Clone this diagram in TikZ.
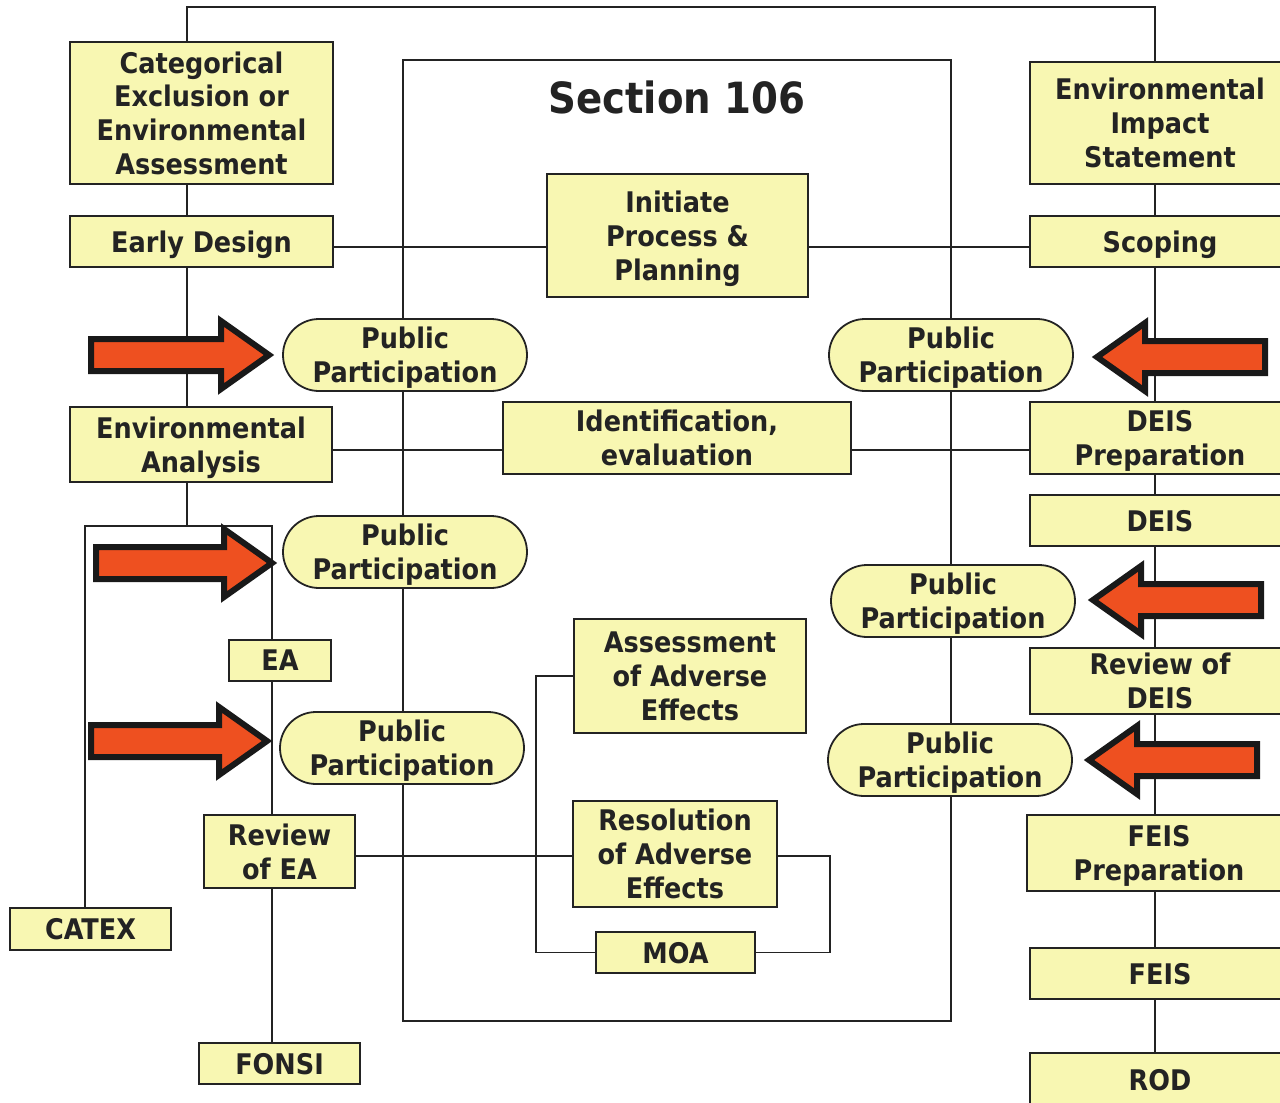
\documentclass[tikz,border=0pt]{standalone}
\usepackage{fontspec}
\setmainfont{DejaVu Sans Condensed}
\usepackage{xcolor}
\usetikzlibrary{calc}
\definecolor{boxfill}{RGB}{248,247,178}
\definecolor{arrowfill}{RGB}{238,80,32}
\definecolor{inkdark}{RGB}{35,35,35}

\begin{document}
\begin{tikzpicture}[
    x=0.5pt, y=-0.5pt,
    box/.style={rectangle, draw=inkdark, line width=0.9pt, fill=boxfill, inner sep=0pt, align=center, text depth=0pt, text=inkdark, font=\bfseries\fontsize{14.2}{16.9}\selectfont},
    ppbox/.style={box, minimum width=122pt, minimum height=36pt, rounded corners=18pt},
    link/.style={draw=inkdark, line width=0.75pt},
    pparrow/.pic={
        \draw[draw=black!90, line width=3pt, line join=miter, fill=arrowfill]
            (0,0) -- (-48,-34) -- (-48,-16) -- (-#1,-16) -- (-#1,16) -- (-48,16) -- (-48,34) -- cycle;
    }
]
\clip (0,0) rectangle (1280,1103);

% Section 106 frame
\node[draw=inkdark, line width=0.75pt, minimum width=274pt, minimum height=480.5pt] (sec) at (677,540.5) {};
\node[text=inkdark, font=\bfseries\fontsize{21.5}{24}\selectfont] (title) at (677,97) {Section 106};

% left column
\node[box, minimum width=131.5pt, minimum height=71pt] (cat) at (201.5,113) {Categorical\\Exclusion or\\Environmental\\Assessment};
\node[box, minimum width=131.5pt, minimum height=25.5pt] (early) at (201.5,241.5) {Early Design};
\node[box, minimum width=131pt, minimum height=37.5pt] (envan) at (201,444.5) {Environmental\\Analysis};
\node[box, minimum width=51pt, minimum height=20.5pt] (ea) at (280,660.5) {EA};
\node[box, minimum width=75.5pt, minimum height=36.5pt] (revea) at (279.5,851.5) {Review\\of EA};
\node[box, minimum width=80.5pt, minimum height=21pt] (catex) at (90.5,929) {CATEX};
\node[box, minimum width=80.5pt, minimum height=20.5pt] (fonsi) at (279.5,1063.5) {FONSI};

% middle column
\node[box, minimum width=130.5pt, minimum height=61.5pt] (init) at (677.5,235.5) {Initiate\\Process \&\\Planning};
\node[box, minimum width=174pt, minimum height=36pt] (ident) at (677,438) {Identification,\\evaluation};
\node[box, minimum width=116pt, minimum height=57pt] (assess) at (690,676) {Assessment\\of Adverse\\Effects};
\node[box, minimum width=102pt, minimum height=53pt] (resol) at (675,854) {Resolution\\of Adverse\\Effects};
\node[box, minimum width=79.5pt, minimum height=20.5pt] (moa) at (675.5,952.5) {MOA};

% public participation
\node[ppbox] (ppa) at (405,355) {Public\\Participation};
\node[ppbox] (ppb) at (405,552) {Public\\Participation};
\node[ppbox] (ppc) at (402,748) {Public\\Participation};
\node[ppbox] (ppd) at (951,355) {Public\\Participation};
\node[ppbox] (ppe) at (953,601) {Public\\Participation};
\node[ppbox] (ppf) at (950,760) {Public\\Participation};

% right column
\node[box, minimum width=130pt, minimum height=61pt] (eis) at (1160,123) {Environmental\\Impact\\Statement};
\node[box, minimum width=130pt, minimum height=25.5pt] (scoping) at (1160,241.5) {Scoping};
\node[box, minimum width=130pt, minimum height=36pt] (deisprep) at (1160,438) {DEIS\\Preparation};
\node[box, minimum width=130pt, minimum height=25.5pt] (deis) at (1160,520.5) {DEIS};
\node[box, minimum width=130pt, minimum height=33pt] (revdeis) at (1160,681) {Review of\\DEIS};
\node[box, minimum width=132pt, minimum height=38pt] (feisprep) at (1159,853) {FEIS\\Preparation};
\node[box, minimum width=130pt, minimum height=25.5pt] (feis) at (1160,973.5) {FEIS};
\node[box, minimum width=130pt, minimum height=27pt] (rod) at (1160,1080) {ROD};

% spines and rows
\coordinate (lspine) at (187,7);
\coordinate (rspine) at (1155,7);
\coordinate (split) at (187,526);
\coordinate (splitl) at (85,526);
\coordinate (splitr) at (272,526);
\coordinate (rowa) at (0,247);
\coordinate (rowb) at (0,450);
\coordinate (rowc) at (0,856);

\draw[link] (cat.north -| lspine) -- (lspine) -- (rspine) -- (eis.north -| rspine);
\draw[link] (cat.south -| lspine) -- (early.north -| lspine);
\draw[link] (early.south -| lspine) -- (envan.north -| lspine);
\draw[link] (envan.south -| split) -- (split);
\draw[link] (catex.north -| splitl) -- (splitl) -- (splitr) -- (ea.north -| splitr);
\draw[link] (ea.south -| splitr) -- (revea.north -| splitr);
\draw[link] (revea.south -| splitr) -- (fonsi.north -| splitr);
\foreach \a/\b in {eis/scoping, scoping/deisprep, deisprep/deis, deis/revdeis, revdeis/feisprep, feisprep/feis, feis/rod}
    \draw[link] (\a.south -| rspine) -- (\b.north -| rspine);

\draw[link] (early.east |- rowa) -- (init.west |- rowa);
\draw[link] (init.east |- rowa) -- (scoping.west |- rowa);
\draw[link] (envan.east |- rowb) -- (ident.west |- rowb);
\draw[link] (ident.east |- rowb) -- (deisprep.west |- rowb);
\draw[link] (revea.east |- rowc) -- (resol.west |- rowc);
\draw[link] (resol.east |- rowc) -- ++(52,0) |- (moa.east);
\draw[link] (assess.west) -- ++(-37,0) |- (moa.west);

% arrows into public participation
\pic at (269,355) {pparrow=178};
\pic at (272,563) {pparrow=176};
\pic at (267,741) {pparrow=176};
\pic[rotate=180] at (1097,357) {pparrow=168};
\pic[rotate=180] at (1093,600) {pparrow=168};
\pic[rotate=180] at (1089,760) {pparrow=168};

\end{tikzpicture}
\end{document}
